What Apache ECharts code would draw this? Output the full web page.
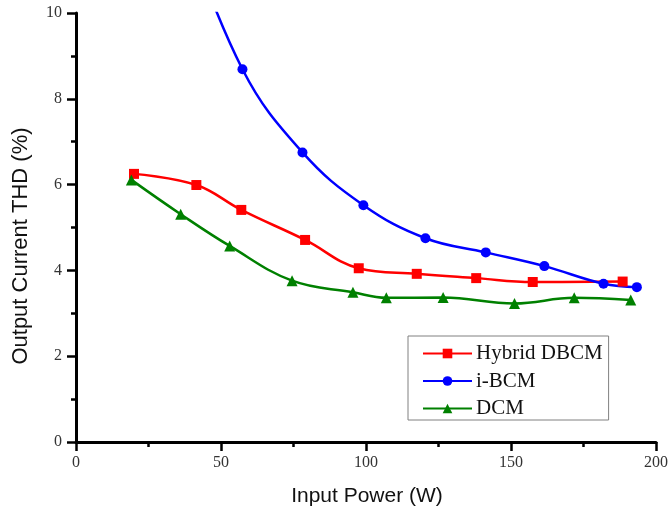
<!DOCTYPE html>
<html>
<head>
<meta charset="utf-8">
<script src="https://cdn.jsdelivr.net/npm/echarts@6/dist/echarts.min.js"></script>
<style>html,body{margin:0;padding:0;background:#fff}#c{width:671px;height:512px}</style>
</head>
<body>
<div id="c"></div>
<script>
var seriesNames = ['Hybrid DBCM', 'i-BCM', 'DCM'];
var hybridX = [20, 41.5, 57, 79, 97.5, 117.5, 138, 157.5, 188.5];
var hybridY = [6.25, 5.99, 5.41, 4.71, 4.05, 3.92, 3.82, 3.73, 3.74];
var ibcmX = [36, 57.4, 78.1, 99.1, 120.5, 141.3, 161.5, 181.9, 193.4];
var ibcmY = [12.3, 8.69, 6.75, 5.52, 4.75, 4.42, 4.10, 3.69, 3.61];
var dcmX = [19.1, 36.1, 53, 74.5, 95.5, 107, 126.6, 151.2, 171.8, 191.3];
var dcmY = [6.11, 5.31, 4.57, 3.76, 3.49, 3.36, 3.37, 3.23, 3.36, 3.31];
var xTicks = [0, 50, 100, 150, 200];
var yTicks = [0, 2, 4, 6, 8, 10];

function pairs(xs, ys) { return xs.map(function (x, i) { return [x, ys[i]]; }); }

var chart = echarts.init(document.getElementById('c'), null, {renderer: 'canvas'});
var axisLine = {show: true, onZero: false, lineStyle: {color: '#000', width: 3}};
var labelStyle = {fontFamily: 'Liberation Serif', fontSize: 16, color: '#333'};
function mkSeries(name, data, color, symbol, size) {
  return {
    name: name, type: 'line', data: data, smooth: 0.4, clip: true,
    symbol: symbol, symbolSize: size, showSymbol: true,
    lineStyle: {color: color, width: 2.5},
    itemStyle: {color: color},
    z: 3
  };
}
chart.setOption({
  animation: false,
  backgroundColor: '#fff',
  grid: {left: 76, right: 13, top: 13, bottom: 70, containLabel: false},
  xAxis: {
    type: 'value', min: xTicks[0], max: xTicks[xTicks.length - 1], interval: 50,
    axisLine: axisLine,
    axisTick: {show: true, inside: false, length: 9, lineStyle: {color: '#000', width: 2.5}},
    minorTick: {show: true, splitNumber: 2, length: 5, lineStyle: {color: '#000', width: 2.5}},
    splitLine: {show: false},
    axisLabel: Object.assign({margin: 13}, labelStyle)
  },
  yAxis: {
    type: 'value', min: yTicks[0], max: yTicks[yTicks.length - 1], interval: 2,
    axisLine: axisLine,
    axisTick: {show: true, inside: false, length: 9, lineStyle: {color: '#000', width: 2.5}},
    minorTick: {show: true, splitNumber: 2, length: 5, lineStyle: {color: '#000', width: 2.5}},
    splitLine: {show: false},
    axisLabel: Object.assign({margin: 14}, labelStyle)
  },
  legend: {
    orient: 'vertical', left: 408, top: 336,
    padding: [7, 6, 1, 14], itemGap: 6.5,
    itemWidth: 49, itemHeight: 12,
    borderColor: '#808080', borderWidth: 1, backgroundColor: '#fff',
    textStyle: {fontFamily: 'Liberation Serif', fontSize: 21, color: '#111', padding: [0, 0, 0, -1]},
    data: seriesNames
  },
  graphic: [
    {type: 'text', x: 367, y: 486,
      style: {text: 'Input Power (W)', font: '21px "Liberation Sans"', fill: '#111', align: 'center', verticalAlign: 'top'}, silent: true},
    {type: 'text', x: 10, y: 246, rotation: Math.PI / 2,
      style: {text: 'Output Current THD (%)', font: '22px "Liberation Sans"', fill: '#111', align: 'center', verticalAlign: 'top'}, silent: true}
  ],
  series: [
    mkSeries(seriesNames[0], pairs(hybridX, hybridY), '#ff0000', 'rect', 10),
    mkSeries(seriesNames[1], pairs(ibcmX, ibcmY), '#0000ff', 'circle', 10),
    mkSeries(seriesNames[2], pairs(dcmX, dcmY), '#008000', 'triangle', 11)
  ]
});
</script>
</body>
</html>
